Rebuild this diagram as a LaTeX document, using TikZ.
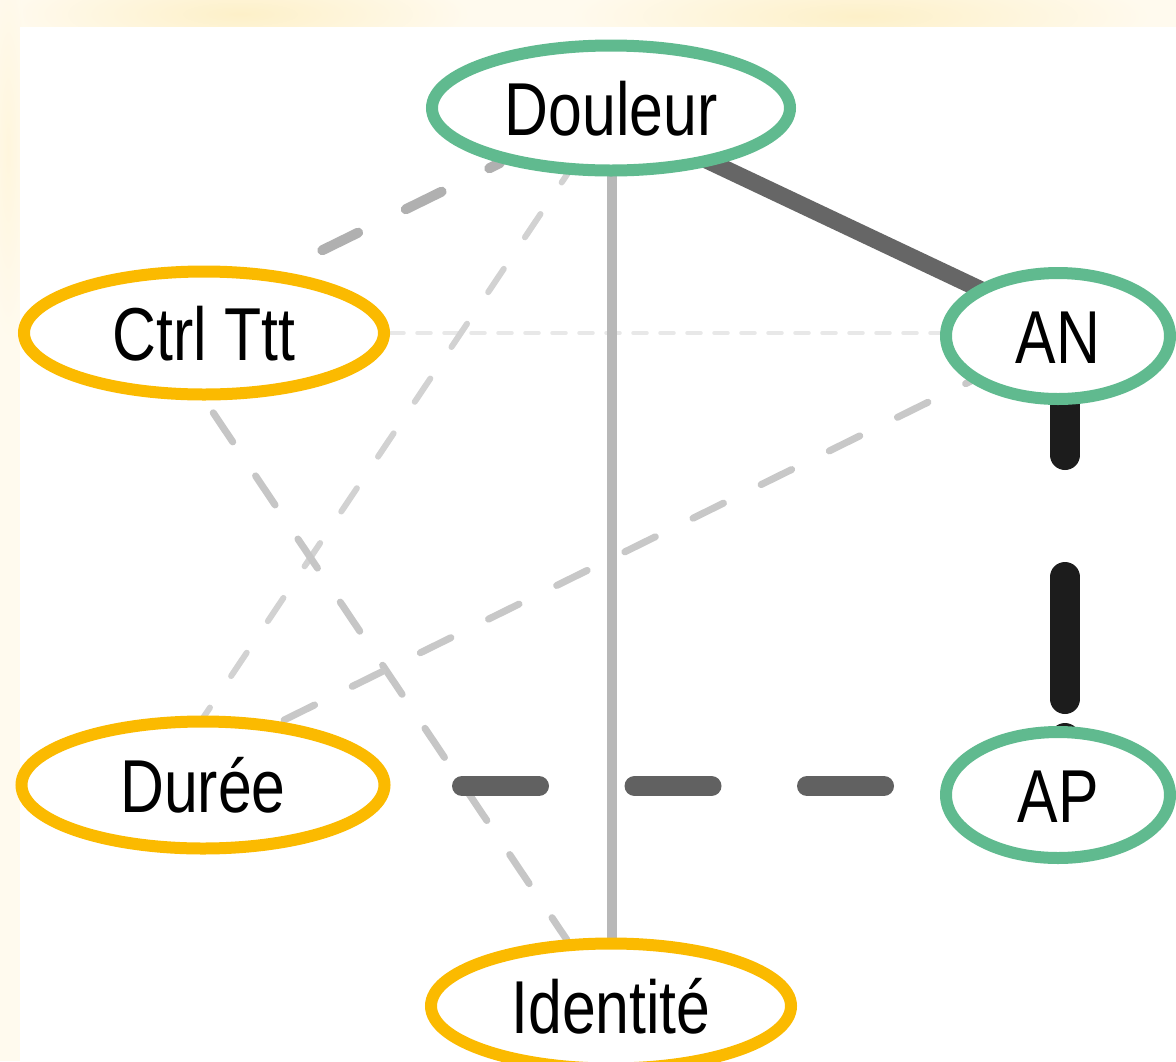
\documentclass[tikz,border=0pt]{standalone}
\usepackage{fontspec}
\setmainfont{Liberation Sans}[FakeStretch=0.81]
\usetikzlibrary{shapes.geometric}
\pgfdeclarelayer{bg}
\pgfdeclarelayer{edges}
\pgfsetlayers{bg,edges,main}
\definecolor{grn}{HTML}{60BA8F}
\definecolor{ylw}{HTML}{FBBA00}
\definecolor{cream}{HTML}{FFFAEE}
\definecolor{blobY}{HTML}{FDF0C8}
\definecolor{leftY}{HTML}{FFF6DD}
\definecolor{eA}{HTML}{B0B0B0}
\definecolor{eB}{HTML}{666666}
\definecolor{eC}{HTML}{B8B8B8}
\definecolor{eD}{HTML}{D2D2D2}
\definecolor{eE}{HTML}{E8E8E8}
\definecolor{eF}{HTML}{C6C6C6}
\definecolor{eG}{HTML}{C8C8C8}
\definecolor{eH}{HTML}{1C1C1C}
\definecolor{eI}{HTML}{616161}
\tikzset{
  nd/.style={ellipse, draw, line width=12pt, fill=white, inner sep=0pt, outer sep=0pt,
    font=\fontsize{75}{80}\selectfont, text height=54pt, text depth=0pt},
  grnnode/.style={nd, draw=grn},
  ylwnode/.style={nd, draw=ylw},
  edgeline/.style={line cap=round}
}
\begin{document}
\begin{tikzpicture}[x=1pt, y=-1pt]
\useasboundingbox (0,0) rectangle (1176,1061);
% background
\begin{pgfonlayer}{bg}
\fill[cream] (0,0) rectangle (1176,1061);
\shade[inner color=blobY, outer color=cream] (240,14) ellipse [x radius=230, y radius=48];
\shade[inner color=blobY, outer color=cream] (860,16) ellipse [x radius=290, y radius=50];
\shade[inner color=leftY, outer color=cream] (8,150) ellipse [x radius=22, y radius=190];
\fill[white] (20,27) rectangle (1176,1061);
\end{pgfonlayer}
% nodes
\node[grnnode, minimum width=358pt, minimum height=125pt] (dou) at (611,108) {Douleur};
\node[ylwnode, minimum width=360pt, minimum height=123pt] (ctrl) at (204,333) {Ctrl Ttt};
\node[grnnode, minimum width=224pt, minimum height=126pt] (an) at (1058,336) {AN};
\node[ylwnode, minimum width=363pt, minimum height=127pt] (dur) at (203,785) {Durée};
\node[grnnode, minimum width=224pt, minimum height=126pt] (ap) at (1058,795) {AP};
\node[ylwnode, minimum width=360pt, minimum height=125pt] (ide) at (611,1006) {Identité};
% edges
\begin{pgfonlayer}{edges}
\draw[edgeline, eE, line width=3.5pt, dash pattern=on 14pt off 13pt]
  ([shift={(186,0)}]ctrl.center) -- ([shift={(-118,-3)}]an.center);
\draw[edgeline, eD, line width=6pt, dash pattern=on 28pt off 38pt, dash phase=13pt]
  ([shift={(-41,62)}]dou.center) -- ([shift={(0,-67)}]dur.center);
\draw[edgeline, eC, line width=10pt]
  ([xshift=1pt]dou.center) -- ([xshift=1pt]ide.center);
\draw[edgeline, eF, line width=7pt, dash pattern=on 35pt off 41pt, dash phase=63pt]
  ([shift={(2,69)}]ctrl.center) -- ([shift={(-44,-66)}]ide.center);
\draw[edgeline, eG, line width=7pt, dash pattern=on 34pt off 42pt, dash phase=67pt]
  ([shift={(73,-61)}]dur.center) -- ([shift={(-87,45)}]an.center);
\draw[edgeline, eA, line width=10pt, dash pattern=on 40pt off 53pt, dash phase=28pt]
  ([shift={(-111,55)}]dou.center) -- ([shift={(76,-62)}]ctrl.center);
\draw[edgeline, eB, line width=17pt]
  ([shift={(89,49)}]dou.center) -- ([shift={(-68,-42)}]an.center);
\draw[edgeline, eI, line width=20pt, dash pattern=on 77pt off 95.5pt, dash phase=100.5pt]
  ([shift={(187,1)}]dur.center) -- ([shift={(-118,-9)}]ap.center);
\draw[edgeline, eH, line width=30pt, dash pattern=on 50pt off 122pt on 122pt off 39pt on 100pt]
  ([shift={(7,69)}]an.center) -- ([shift={(7,0)}]ap.center);
\end{pgfonlayer}
\end{tikzpicture}
\end{document}
